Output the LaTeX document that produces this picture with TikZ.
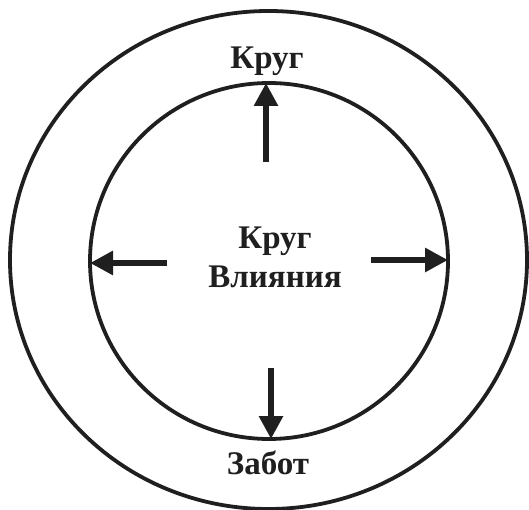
\documentclass[tikz,border=0pt]{standalone}
\usepackage{fontspec}
\setmainfont{Liberation Serif}
\usetikzlibrary{shapes.geometric,arrows.meta,positioning}

\begin{document}
\begin{tikzpicture}[
    x=1pt, y=-1pt,
    every node/.style={font=\fontsize{33}{39}\selectfont\bfseries, text=black!88},
    ring/.style={ellipse, draw=black!88, line width=3.8pt, inner sep=0pt, outer sep=0pt},
    arrow/.style={-{Triangle[length=23pt, width=23pt]}, line width=6pt, draw=black!88},
    label/.style={align=center, inner sep=0pt}
]
\useasboundingbox (0,0) rectangle (529,510);

% Circles
\node[ring, minimum width=517pt, minimum height=498pt] (outer) at (268.5,260) {};
\node[ring, minimum width=358pt, minimum height=356pt] (inner) at (269,261) {};

% Labels
\node[label] (top) at (267,61) {Круг};
\node[label] (centre) at (275,257) {Круг\\Влияния};
\node[label] (bottom) at (268,463) {Забот};

% Arrow tails
\coordinate (upTail) at (266,162);
\coordinate (downTail) at (271,368);
\coordinate (leftTail) at (167,263);
\coordinate (rightTail) at (371,260);

% Arrows to the inner circle
\draw[arrow] (upTail) -- (upTail |- inner.north);
\draw[arrow] (downTail) -- (downTail |- inner.south);
\draw[arrow] (leftTail) -- (inner.west |- leftTail);
\draw[arrow] (rightTail) -- (inner.east |- rightTail);

\end{tikzpicture}
\end{document}
